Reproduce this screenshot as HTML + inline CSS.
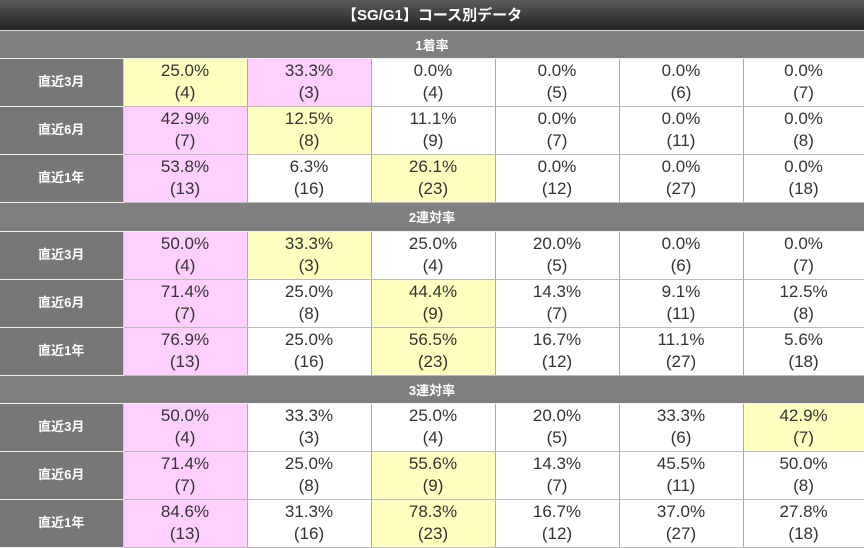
<!DOCTYPE html><html><head><meta charset="utf-8"><style>
body{margin:0;width:864px;height:548px;overflow:hidden;background:#fff;font-family:"Liberation Sans","Noto Sans CJK JP",sans-serif}
table{border-collapse:collapse;table-layout:fixed;width:864px}
td{padding:0;text-align:center;box-sizing:border-box}
.t td{height:30px;background:linear-gradient(#5a5a5a,#222);color:#fff;font-weight:bold;font-size:15px;border-bottom:1px solid #ddd}
.s td{height:28px;background:#7f7f7f;color:#fff;font-weight:bold;font-size:13px;border-bottom:1px solid #eee}
.s2 td{height:29px}
.r td{height:48px;font-size:17px;color:#333;line-height:22px;border-right:1px solid #aaa;border-bottom:1px solid #bbb}
.r td.l{background:#777;color:#fff;font-weight:bold;font-size:13px;border-bottom:1px solid #eee;border-right:1px solid #ccc}
.y{background:#ffffc0}.p{background:#ffd0ff}
</style></head><body><table>
<colgroup><col style="width:123px"><col style="width:124px"><col style="width:124px"><col style="width:124px"><col style="width:124px"><col style="width:124px"><col style="width:121px"></colgroup>
<tr class="t"><td colspan="7">【SG/G1】コース別データ</td></tr>
<tr class="s"><td colspan="7">1着率</td></tr>
<tr class="r"><td class="l">直近3月</td><td class="y">25.0%<br>(4)</td><td class="p">33.3%<br>(3)</td><td>0.0%<br>(4)</td><td>0.0%<br>(5)</td><td>0.0%<br>(6)</td><td>0.0%<br>(7)</td></tr>
<tr class="r"><td class="l">直近6月</td><td class="p">42.9%<br>(7)</td><td class="y">12.5%<br>(8)</td><td>11.1%<br>(9)</td><td>0.0%<br>(7)</td><td>0.0%<br>(11)</td><td>0.0%<br>(8)</td></tr>
<tr class="r"><td class="l">直近1年</td><td class="p">53.8%<br>(13)</td><td>6.3%<br>(16)</td><td class="y">26.1%<br>(23)</td><td>0.0%<br>(12)</td><td>0.0%<br>(27)</td><td>0.0%<br>(18)</td></tr>
<tr class="s s2"><td colspan="7">2連対率</td></tr>
<tr class="r"><td class="l">直近3月</td><td class="p">50.0%<br>(4)</td><td class="y">33.3%<br>(3)</td><td>25.0%<br>(4)</td><td>20.0%<br>(5)</td><td>0.0%<br>(6)</td><td>0.0%<br>(7)</td></tr>
<tr class="r"><td class="l">直近6月</td><td class="p">71.4%<br>(7)</td><td>25.0%<br>(8)</td><td class="y">44.4%<br>(9)</td><td>14.3%<br>(7)</td><td>9.1%<br>(11)</td><td>12.5%<br>(8)</td></tr>
<tr class="r"><td class="l">直近1年</td><td class="p">76.9%<br>(13)</td><td>25.0%<br>(16)</td><td class="y">56.5%<br>(23)</td><td>16.7%<br>(12)</td><td>11.1%<br>(27)</td><td>5.6%<br>(18)</td></tr>
<tr class="s"><td colspan="7">3連対率</td></tr>
<tr class="r"><td class="l">直近3月</td><td class="p">50.0%<br>(4)</td><td>33.3%<br>(3)</td><td>25.0%<br>(4)</td><td>20.0%<br>(5)</td><td>33.3%<br>(6)</td><td class="y">42.9%<br>(7)</td></tr>
<tr class="r"><td class="l">直近6月</td><td class="p">71.4%<br>(7)</td><td>25.0%<br>(8)</td><td class="y">55.6%<br>(9)</td><td>14.3%<br>(7)</td><td>45.5%<br>(11)</td><td>50.0%<br>(8)</td></tr>
<tr class="r"><td class="l">直近1年</td><td class="p">84.6%<br>(13)</td><td>31.3%<br>(16)</td><td class="y">78.3%<br>(23)</td><td>16.7%<br>(12)</td><td>37.0%<br>(27)</td><td>27.8%<br>(18)</td></tr>
</table></body></html>
